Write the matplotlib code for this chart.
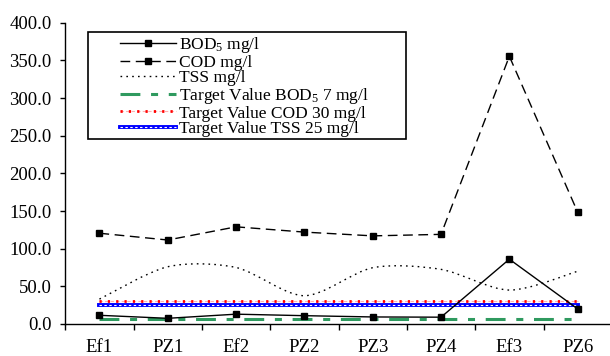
import matplotlib
matplotlib.use("Agg")
import matplotlib.pyplot as plt
from matplotlib.lines import Line2D
from matplotlib.path import Path
from matplotlib.patches import PathPatch, Rectangle

plt.rcParams["font.family"] = ["Liberation Serif", "DejaVu Serif"]
plt.rcParams["mathtext.fontset"] = "custom"
plt.rcParams["mathtext.rm"] = "Liberation Serif"
plt.rcParams["mathtext.default"] = "regular"

sites = ["Ef1", "PZ1", "Ef2", "PZ2", "PZ3", "PZ4", "Ef3", "PZ6"]
bod = [11.5, 7.5, 13.0, 11.0, 9.3, 9.0, 86.0, 20.0]
cod = [120.5, 111.5, 129.0, 122.0, 117.0, 119.0, 355.5, 148.5]
tss = [33.0, 76.0, 75.0, 37.5, 74.7, 72.5, 45.0, 70.0]
target_bod = 7
target_cod = 30
target_tss = 25

GREEN = "#2f9a5f"
x = list(range(len(sites)))

fig = plt.figure(figsize=(6.10, 3.56), dpi=100)
ax = fig.add_axes([0.107, 0.090, 0.896, 0.846])

# targets (drawn under the measured series)
ax.plot(x, [target_cod] * len(x), color="#ffb0b0", linewidth=0.8, dashes=(3, 2), zorder=2)
ax.plot(x, [target_cod] * len(x), color="red", linewidth=2.0, dashes=(0.8, 2.2), zorder=2)
ax.plot(x, [target_tss] * len(x), color="blue", linewidth=2.8, zorder=2)
ax.plot(x, [target_tss] * len(x), color="white", linewidth=0.8, dashes=(2.2, 2.2), zorder=2)
ax.plot(x, [target_bod] * len(x), color=GREEN, linewidth=2.2, dashes=(6.5, 3.5, 2.3, 3.5), zorder=2)

# TSS as a smoothed (Catmull-Rom style) curve through the points
pts = list(zip(x, tss))
verts = [pts[0]]
codes = [Path.MOVETO]
for i in range(len(pts) - 1):
    p0 = pts[i - 1] if i > 0 else pts[i]
    p1 = pts[i]
    p2 = pts[i + 1]
    p3 = pts[i + 2] if i + 2 < len(pts) else pts[i + 1]
    c1 = (p1[0] + (p2[0] - p0[0]) / 7, p1[1] + (p2[1] - p0[1]) / 7)
    c2 = (p2[0] - (p3[0] - p1[0]) / 7, p2[1] - (p3[1] - p1[1]) / 7)
    verts += [c1, c2, p2]
    codes += [Path.CURVE4] * 3
ax.add_patch(PathPatch(Path(verts, codes), facecolor="none", edgecolor="black",
                       linewidth=1.0, linestyle=(0, (1.2, 3.0)), zorder=3))

ax.plot(x, cod, color="black", linewidth=1.0, dashes=(7, 4), marker="s",
        markersize=4.8, zorder=4)
ax.plot(x, bod, color="black", linewidth=1.0, marker="s", markersize=4.8, zorder=4)

ax.set_xlim(-0.5, 7.5)
ax.set_ylim(0, 400)
ax.set_yticks(range(0, 401, 50))
ax.set_yticklabels([f"{v:.1f}" for v in range(0, 401, 50)], fontsize=13.5)
ax.set_xticks([i - 0.5 for i in range(len(sites) + 1)])
ax.set_xticklabels([])
ax.set_xticks(x, minor=True)
ax.set_xticklabels(sites, minor=True, fontsize=13.5)
ax.tick_params(axis="x", which="major", direction="out", length=4.5, width=1.0)
ax.tick_params(axis="x", which="minor", length=0, pad=11)
ax.tick_params(axis="y", direction="out", length=3.8, width=1.0, pad=6)
for s in ["top", "right"]:
    ax.spines[s].set_visible(False)
for s in ["left", "bottom"]:
    ax.spines[s].set_linewidth(1.0)

handles = [
    Line2D([], [], color="black", linewidth=1.0, marker="s", markersize=4.8, markevery=[1]),
    Line2D([], [], color="black", linewidth=1.0, dashes=(7, 4), marker="s", markersize=4.8, markevery=[1]),
    Line2D([], [], color="black", linewidth=1.0, dashes=(1.2, 3.0)),
    Line2D([], [], color=GREEN, linewidth=2.2, dashes=(6.5, 3.5, 2.3, 3.5)),
    (Line2D([], [], color="#ffb0b0", linewidth=0.8, dashes=(3, 2)),
     Line2D([], [], color="red", linewidth=2.0, dashes=(0.8, 2.2))),
    (Line2D([], [], color="blue", linewidth=2.8),
     Line2D([], [], color="white", linewidth=0.8, dashes=(2.2, 2.2))),
]
labels = [
    "BOD$_5$ mg/l",
    "COD mg/l",
    "TSS mg/l",
    "Target Value BOD$_5$ 7 mg/l",
    "Target Value COD 30 mg/l",
    "Target Value TSS 25 mg/l",
]
# legend box is wider than its contents, so draw the frame by hand
fig.patches.append(Rectangle((88 / 610, 1 - 139 / 356), (406 - 88) / 610, (139 - 32) / 356,
                             transform=fig.transFigure, facecolor="white",
                             edgecolor="black", linewidth=1.2, zorder=5))
leg = fig.legend(handles, labels, loc="upper left", bbox_to_anchor=(108 / 610, 1 - 23 / 356),
                 frameon=False, fontsize=12.5, handlelength=3.2, handletextpad=0.2,
                 labelspacing=-0.03, borderpad=0.2)
leg.set_zorder(6)

fig.savefig("out.png", dpi=100)
